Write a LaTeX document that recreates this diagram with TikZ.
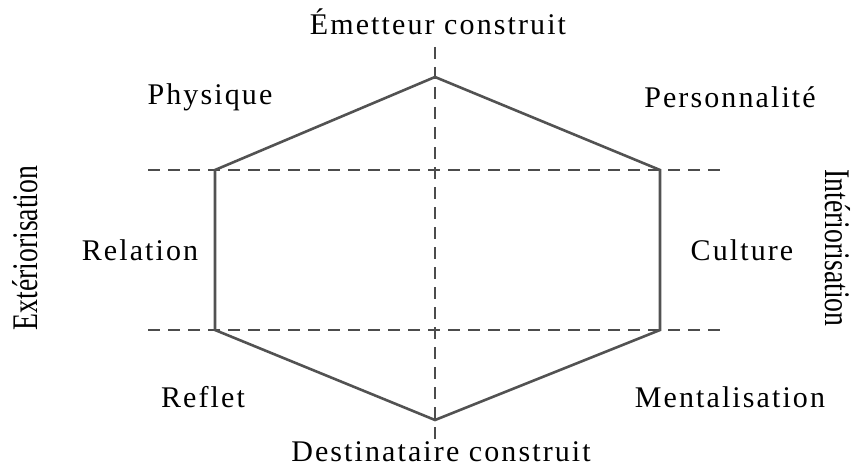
\documentclass[tikz,border=0pt]{standalone}
\usepackage{fontspec}
\setmainfont{Liberation Serif}
\newfontfamily\lblfont{Liberation Serif}[LetterSpace=7]
\begin{document}
\begin{tikzpicture}[
  x=1pt, y=-1pt,
  lbl/.style={font=\lblfont\fontsize{30}{33}\selectfont, inner sep=0pt},
  axis/.style={font=\fontsize{36}{40}\selectfont, inner sep=0pt},
  guide/.style={draw=black!70, line width=1.4pt, dash pattern=on 12pt off 8pt},
  hexa/.style={draw=black!68, line width=2.6pt, line join=miter}
]
\useasboundingbox (0,0) rectangle (853,468);

\coordinate (top) at (435,77);
\coordinate (ur) at (660,170);
\coordinate (lr) at (660,330);
\coordinate (bot) at (435,420);
\coordinate (ll) at (215,330);
\coordinate (ul) at (215,170);

\coordinate (vtop) at (435,47);
\coordinate (vbot) at (435,446);
\coordinate (h1w) at (148,170);
\coordinate (h1e) at (725,170);
\coordinate (h2w) at (148,330);
\coordinate (h2e) at (725,330);

\draw[guide] (vtop) -- (vbot);
\draw[guide] (h1w) -- (h1e);
\draw[guide] (h2w) -- (h2e);
\draw[hexa] (top) -- (ur) -- (lr) -- (bot) -- (ll) -- (ul) -- cycle;

\node[lbl] (emet) at (438,22) {Émetteur construit};
\node[lbl] (phys) at (210,97) {Physique};
\node[lbl] (pers) at (730,97) {Personnalité};
\node[lbl] (rel) at (140,250) {Relation};
\node[lbl] (cult) at (742,250) {Culture};
\node[lbl] (refl) at (203,397) {Reflet};
\node[lbl] (ment) at (730,397) {Mentalisation};
\node[lbl] (dest) at (441,452) {Destinataire construit};

\node[axis, rotate=90] (ext) at (25,248) {\scalebox{0.77}[1]{Extériorisation}};
\node[axis, rotate=-90] (int) at (838,248) {\scalebox{0.77}[1]{Intériorisation}};
\end{tikzpicture}
\end{document}
